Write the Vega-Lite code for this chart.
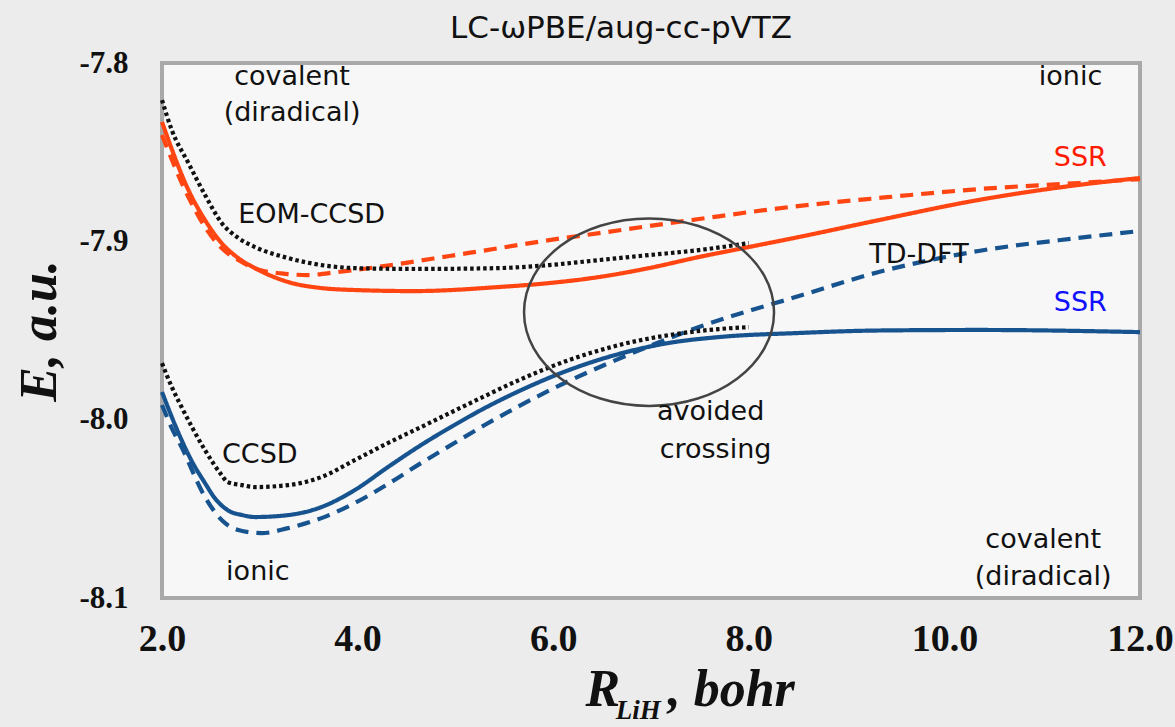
{
  "$schema": "https://vega.github.io/schema/vega-lite/v6.json",
  "width": 978,
  "height": 535,
  "autosize": "none",
  "padding": {"left": 162, "top": 63, "right": 35, "bottom": 129},
  "background": "#ececec",
  "config": {
    "view": {"fill": "#f7f7f7", "stroke": "#a9a9a9", "strokeWidth": 4},
    "axis": {"labelFont": "Liberation Serif", "labelFontWeight": "bold", "labelColor": "#111111", "ticks": false, "domain": false, "grid": false, "labelOverlap": false, "labelFlush": false}
  },
  "title": {"text": "LC-ωPBE/aug-cc-pVTZ", "font": "DejaVu Sans", "fontSize": 31, "fontWeight": "normal", "color": "#111111", "anchor": "middle", "dx": -30, "offset": 2},
  "resolve": {"scale": {"color": "independent"}},
  "datasets": {
    "curves": [
      {"curve": "SSR upper", "R": 2.0, "E": -7.8331},
      {"curve": "SSR upper", "R": 2.27, "E": -7.8712},
      {"curve": "SSR upper", "R": 2.44, "E": -7.8881},
      {"curve": "SSR upper", "R": 2.61, "E": -7.9010},
      {"curve": "SSR upper", "R": 2.78, "E": -7.9094},
      {"curve": "SSR upper", "R": 2.95, "E": -7.9150},
      {"curve": "SSR upper", "R": 3.29, "E": -7.9228},
      {"curve": "SSR upper", "R": 3.63, "E": -7.9262},
      {"curve": "SSR upper", "R": 3.97, "E": -7.9273},
      {"curve": "SSR upper", "R": 4.58, "E": -7.9279},
      {"curve": "SSR upper", "R": 5.45, "E": -7.9256},
      {"curve": "SSR upper", "R": 5.96, "E": -7.9234},
      {"curve": "SSR upper", "R": 6.47, "E": -7.9200},
      {"curve": "SSR upper", "R": 6.98, "E": -7.9150},
      {"curve": "SSR upper", "R": 7.49, "E": -7.9088},
      {"curve": "SSR upper", "R": 8.0, "E": -7.9032},
      {"curve": "SSR upper", "R": 8.51, "E": -7.8976},
      {"curve": "SSR upper", "R": 9.33, "E": -7.8881},
      {"curve": "SSR upper", "R": 10.35, "E": -7.8768},
      {"curve": "SSR upper", "R": 11.37, "E": -7.8684},
      {"curve": "SSR upper", "R": 12.0, "E": -7.8645},

      {"curve": "TD-DFT upper", "R": 2.0, "E": -7.8404},
      {"curve": "TD-DFT upper", "R": 2.27, "E": -7.8752},
      {"curve": "TD-DFT upper", "R": 2.44, "E": -7.8920},
      {"curve": "TD-DFT upper", "R": 2.61, "E": -7.9038},
      {"curve": "TD-DFT upper", "R": 2.78, "E": -7.9105},
      {"curve": "TD-DFT upper", "R": 3.0, "E": -7.9161},
      {"curve": "TD-DFT upper", "R": 3.22, "E": -7.9180},
      {"curve": "TD-DFT upper", "R": 3.49, "E": -7.9189},
      {"curve": "TD-DFT upper", "R": 3.80, "E": -7.9172},
      {"curve": "TD-DFT upper", "R": 4.48, "E": -7.9122},
      {"curve": "TD-DFT upper", "R": 4.94, "E": -7.9082},
      {"curve": "TD-DFT upper", "R": 5.45, "E": -7.9038},
      {"curve": "TD-DFT upper", "R": 5.96, "E": -7.8993},
      {"curve": "TD-DFT upper", "R": 6.47, "E": -7.8954},
      {"curve": "TD-DFT upper", "R": 6.98, "E": -7.8914},
      {"curve": "TD-DFT upper", "R": 7.49, "E": -7.8875},
      {"curve": "TD-DFT upper", "R": 8.41, "E": -7.8808},
      {"curve": "TD-DFT upper", "R": 9.33, "E": -7.8757},
      {"curve": "TD-DFT upper", "R": 10.35, "E": -7.8707},
      {"curve": "TD-DFT upper", "R": 11.37, "E": -7.8673},
      {"curve": "TD-DFT upper", "R": 12.0, "E": -7.8651},

      {"curve": "EOM-CCSD", "R": 2.0, "E": -7.8208},
      {"curve": "EOM-CCSD", "R": 2.1, "E": -7.8376},
      {"curve": "EOM-CCSD", "R": 2.27, "E": -7.8561},
      {"curve": "EOM-CCSD", "R": 2.44, "E": -7.8740},
      {"curve": "EOM-CCSD", "R": 2.61, "E": -7.8897},
      {"curve": "EOM-CCSD", "R": 2.78, "E": -7.8981},
      {"curve": "EOM-CCSD", "R": 2.95, "E": -7.9032},
      {"curve": "EOM-CCSD", "R": 3.29, "E": -7.9094},
      {"curve": "EOM-CCSD", "R": 3.63, "E": -7.9133},
      {"curve": "EOM-CCSD", "R": 3.97, "E": -7.9150},
      {"curve": "EOM-CCSD", "R": 4.58, "E": -7.9155},
      {"curve": "EOM-CCSD", "R": 5.45, "E": -7.9150},
      {"curve": "EOM-CCSD", "R": 5.96, "E": -7.9133},
      {"curve": "EOM-CCSD", "R": 6.47, "E": -7.9105},
      {"curve": "EOM-CCSD", "R": 6.98, "E": -7.9077},
      {"curve": "EOM-CCSD", "R": 7.49, "E": -7.9049},
      {"curve": "EOM-CCSD", "R": 8.0, "E": -7.9010},

      {"curve": "SSR lower", "R": 2.0, "E": -7.9845},
      {"curve": "SSR lower", "R": 2.1, "E": -7.9985},
      {"curve": "SSR lower", "R": 2.2, "E": -8.0114},
      {"curve": "SSR lower", "R": 2.31, "E": -8.0238},
      {"curve": "SSR lower", "R": 2.44, "E": -8.0356},
      {"curve": "SSR lower", "R": 2.54, "E": -8.0440},
      {"curve": "SSR lower", "R": 2.67, "E": -8.0507},
      {"curve": "SSR lower", "R": 2.82, "E": -8.0535},
      {"curve": "SSR lower", "R": 2.95, "E": -8.0546},
      {"curve": "SSR lower", "R": 3.29, "E": -8.0535},
      {"curve": "SSR lower", "R": 3.63, "E": -8.0490},
      {"curve": "SSR lower", "R": 3.97, "E": -8.0395},
      {"curve": "SSR lower", "R": 4.31, "E": -8.0266},
      {"curve": "SSR lower", "R": 4.65, "E": -8.0142},
      {"curve": "SSR lower", "R": 4.99, "E": -8.0030},
      {"curve": "SSR lower", "R": 5.30, "E": -7.9935},
      {"curve": "SSR lower", "R": 5.65, "E": -7.9840},
      {"curve": "SSR lower", "R": 6.16, "E": -7.9722},
      {"curve": "SSR lower", "R": 6.67, "E": -7.9632},
      {"curve": "SSR lower", "R": 7.18, "E": -7.9570},
      {"curve": "SSR lower", "R": 7.69, "E": -7.9537},
      {"curve": "SSR lower", "R": 8.51, "E": -7.9514},
      {"curve": "SSR lower", "R": 9.33, "E": -7.9500},
      {"curve": "SSR lower", "R": 10.35, "E": -7.9497},
      {"curve": "SSR lower", "R": 12.0, "E": -7.9509},

      {"curve": "TD-DFT lower", "R": 2.0, "E": -7.9918},
      {"curve": "TD-DFT lower", "R": 2.1, "E": -8.0047},
      {"curve": "TD-DFT lower", "R": 2.2, "E": -8.0154},
      {"curve": "TD-DFT lower", "R": 2.44, "E": -8.0434},
      {"curve": "TD-DFT lower", "R": 2.61, "E": -8.0563},
      {"curve": "TD-DFT lower", "R": 2.78, "E": -8.0619},
      {"curve": "TD-DFT lower", "R": 3.02, "E": -8.0636},
      {"curve": "TD-DFT lower", "R": 3.29, "E": -8.0608},
      {"curve": "TD-DFT lower", "R": 3.63, "E": -8.0552},
      {"curve": "TD-DFT lower", "R": 3.97, "E": -8.0468},
      {"curve": "TD-DFT lower", "R": 4.31, "E": -8.0361},
      {"curve": "TD-DFT lower", "R": 4.65, "E": -8.0243},
      {"curve": "TD-DFT lower", "R": 4.99, "E": -8.0131},
      {"curve": "TD-DFT lower", "R": 5.30, "E": -8.0030},
      {"curve": "TD-DFT lower", "R": 5.65, "E": -7.9924},
      {"curve": "TD-DFT lower", "R": 5.99, "E": -7.9828},
      {"curve": "TD-DFT lower", "R": 6.50, "E": -7.9699},
      {"curve": "TD-DFT lower", "R": 7.01, "E": -7.9582},
      {"curve": "TD-DFT lower", "R": 7.52, "E": -7.9475},
      {"curve": "TD-DFT lower", "R": 8.03, "E": -7.9385},
      {"curve": "TD-DFT lower", "R": 8.41, "E": -7.9324},
      {"curve": "TD-DFT lower", "R": 9.33, "E": -7.9172},
      {"curve": "TD-DFT lower", "R": 10.35, "E": -7.9054},
      {"curve": "TD-DFT lower", "R": 11.37, "E": -7.8981},
      {"curve": "TD-DFT lower", "R": 12.0, "E": -7.8942},

      {"curve": "CCSD", "R": 2.0, "E": -7.9683},
      {"curve": "CCSD", "R": 2.1, "E": -7.9817},
      {"curve": "CCSD", "R": 2.2, "E": -7.9929},
      {"curve": "CCSD", "R": 2.44, "E": -8.0171},
      {"curve": "CCSD", "R": 2.61, "E": -8.0311},
      {"curve": "CCSD", "R": 2.67, "E": -8.0350},
      {"curve": "CCSD", "R": 2.82, "E": -8.0367},
      {"curve": "CCSD", "R": 2.95, "E": -8.0378},
      {"curve": "CCSD", "R": 3.29, "E": -8.0367},
      {"curve": "CCSD", "R": 3.63, "E": -8.0322},
      {"curve": "CCSD", "R": 3.97, "E": -8.0227},
      {"curve": "CCSD", "R": 4.31, "E": -8.0131},
      {"curve": "CCSD", "R": 4.65, "E": -8.0041},
      {"curve": "CCSD", "R": 4.99, "E": -7.9950},
      {"curve": "CCSD", "R": 5.30, "E": -7.9868},
      {"curve": "CCSD", "R": 5.65, "E": -7.9778},
      {"curve": "CCSD", "R": 6.16, "E": -7.9666},
      {"curve": "CCSD", "R": 6.67, "E": -7.9582},
      {"curve": "CCSD", "R": 7.18, "E": -7.9526},
      {"curve": "CCSD", "R": 7.69, "E": -7.9492},
      {"curve": "CCSD", "R": 8.0, "E": -7.9481}
    ],
    "notes": [
      {"R": 3.33, "E": -7.8079, "label": "covalent", "tone": "plain"},
      {"R": 3.33, "E": -7.8280, "label": "(diradical)", "tone": "plain"},
      {"R": 11.29, "E": -7.8079, "label": "ionic", "tone": "plain"},
      {"R": 11.39, "E": -7.8533, "label": "SSR", "tone": "upper"},
      {"R": 3.53, "E": -7.8852, "label": "EOM-CCSD", "tone": "plain"},
      {"R": 9.74, "E": -7.9077, "label": "TD-DFT", "tone": "plain"},
      {"R": 11.39, "E": -7.9346, "label": "SSR", "tone": "lower"},
      {"R": 3.0, "E": -8.0199, "label": "CCSD", "tone": "plain"},
      {"R": 7.61, "E": -7.9957, "label": "avoided", "tone": "plain"},
      {"R": 7.66, "E": -8.0170, "label": "crossing", "tone": "plain"},
      {"R": 2.98, "E": -8.0855, "label": "ionic", "tone": "plain"},
      {"R": 11.01, "E": -8.0675, "label": "covalent", "tone": "plain"},
      {"R": 11.01, "E": -8.0883, "label": "(diradical)", "tone": "plain"}
    ],
    "ellipse": [
      {"R": 6.98, "E": -7.9397}
    ],
    "xtitle": [
      {"R": 6.33, "E": -8.1606, "label": "R", "part": "main"},
      {"R": 6.64, "E": -8.1680, "label": "LiH", "part": "sub"},
      {"R": 7.17, "E": -8.1606, "label": ", bohr", "part": "main"}
    ]
  },
  "layer": [
    {
      "data": {"name": "curves"},
      "mark": {"type": "line", "interpolate": "monotone", "strokeWidth": 4.2},
      "encoding": {
        "x": {"field": "R", "type": "quantitative",
              "scale": {"domain": [2, 12], "nice": false, "zero": false},
              "axis": {"title": null, "values": [2, 4, 6, 8, 10, 12], "format": ".1f", "labelFontSize": 38, "labelPadding": 22}},
        "y": {"field": "E", "type": "quantitative",
              "scale": {"domain": [-8.1, -7.8], "nice": false, "zero": false},
              "axis": {"title": "E, a.u.", "values": [-8.1, -8.0, -7.9, -7.8],
                       "labelExpr": "replace(format(datum.value, '.1f'), '\u2212', '-')",
                       "labelFontSize": 31, "labelPadding": 34,
                       "titleFont": "Liberation Serif", "titleFontStyle": "italic", "titleFontWeight": "bold",
                       "titleFontSize": 52, "titleColor": "#111111", "titlePadding": 12}},
        "color": {"field": "curve", "type": "nominal", "legend": null,
                  "scale": {"domain": ["SSR upper", "TD-DFT upper", "EOM-CCSD", "SSR lower", "TD-DFT lower", "CCSD"],
                            "range": ["#ff4512", "#ff4512", "#111111", "#17548f", "#17548f", "#111111"]}},
        "strokeDash": {"field": "curve", "type": "nominal", "legend": null,
                  "scale": {"domain": ["SSR upper", "TD-DFT upper", "EOM-CCSD", "SSR lower", "TD-DFT lower", "CCSD"],
                            "range": [[1, 0], [13, 8], [3.5, 3], [1, 0], [13, 8], [3.5, 3]]}}
      }
    },
    {
      "data": {"name": "ellipse"},
      "mark": {"type": "point", "filled": false, "stroke": "#444444", "strokeWidth": 2.5, "opacity": 1, "size": 62500,
               "shape": "M 1 0 C 1 0.4142 0.5523 0.75 0 0.75 C -0.5523 0.75 -1 0.4142 -1 0 C -1 -0.4142 -0.5523 -0.75 0 -0.75 C 0.5523 -0.75 1 -0.4142 1 0 Z"},
      "encoding": {
        "x": {"field": "R", "type": "quantitative"},
        "y": {"field": "E", "type": "quantitative"}
      }
    },
    {
      "data": {"name": "notes"},
      "mark": {"type": "text", "font": "DejaVu Sans", "fontSize": 27, "align": "center", "baseline": "middle"},
      "encoding": {
        "x": {"field": "R", "type": "quantitative"},
        "y": {"field": "E", "type": "quantitative"},
        "text": {"field": "label"},
        "color": {"field": "tone", "type": "nominal", "legend": null,
                  "scale": {"domain": ["plain", "upper", "lower"], "range": ["#111111", "#ff1a00", "#1010ff"]}}
      }
    },
    {
      "data": {"name": "xtitle"},
      "transform": [{"filter": "datum.part == 'main'"}],
      "mark": {"type": "text", "font": "Liberation Serif", "fontStyle": "italic", "fontWeight": "bold", "fontSize": 52, "align": "left", "baseline": "alphabetic", "color": "#111111"},
      "encoding": {
        "x": {"field": "R", "type": "quantitative"},
        "y": {"field": "E", "type": "quantitative"},
        "text": {"field": "label"}
      }
    },
    {
      "data": {"name": "xtitle"},
      "transform": [{"filter": "datum.part == 'sub'"}],
      "mark": {"type": "text", "font": "Liberation Serif", "fontStyle": "italic", "fontWeight": "bold", "fontSize": 27, "align": "left", "baseline": "alphabetic", "color": "#111111"},
      "encoding": {
        "x": {"field": "R", "type": "quantitative"},
        "y": {"field": "E", "type": "quantitative"},
        "text": {"field": "label"}
      }
    }
  ]
}
